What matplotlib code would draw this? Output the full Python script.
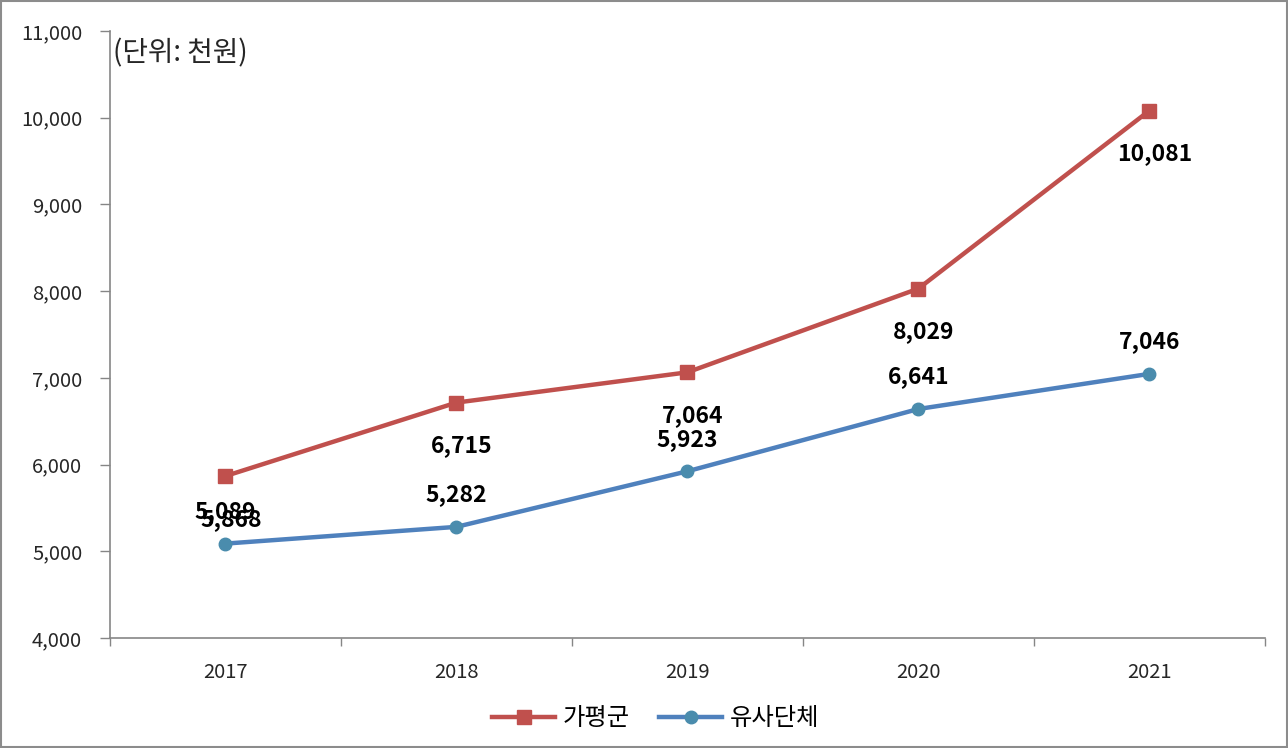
import numpy as np
import matplotlib
matplotlib.use("Agg")
import matplotlib.pyplot as plt
from matplotlib.patches import Rectangle

plt.rcParams['font.family'] = ['Noto Sans CJK KR', 'DejaVu Sans']

# data
years = ['2017', '2018', '2019', '2020', '2021']
gapyeong = [5868, 6715, 7064, 8029, 10081]
similar = [5089, 5282, 5923, 6641, 7046]
series_names = ['가평군', '유사단체']
unit_text = '(단위: 천원)'

red = '#C0504D'
blue = '#4F81BD'
blue_marker = '#4A8CAD'
axis_gray = '#868686'

fig = plt.figure(figsize=(12.88, 7.48), dpi=100)
ax = fig.add_axes([0.0854, 0.147, 0.8966, 0.8116])

x = np.arange(len(years))
ax.plot(x, gapyeong, color=red, lw=3.2, marker='s', ms=10,
        mfc=red, mec=red, label=series_names[0])
ax.plot(x, similar, color=blue, lw=3.2, marker='o', ms=9,
        mfc=blue_marker, mec=blue_marker, label=series_names[1])

# data labels: red below, blue above
for xi, v in zip(x, gapyeong):
    ax.annotate(f'{v:,}', (xi, v), xytext=(4, -31), textcoords='offset points',
                ha='center', va='center', fontsize=16.5, fontweight='bold', color='black')
for xi, v in zip(x, similar):
    ax.annotate(f'{v:,}', (xi, v), xytext=(0, 23), textcoords='offset points',
                ha='center', va='center', fontsize=16.5, fontweight='bold', color='black')

ax.set_xlim(-0.5, len(years) - 0.5)
ax.set_ylim(4000, 11000)
ax.set_yticks(np.arange(4000, 11001, 1000))
ax.set_yticklabels([f'{t:,}' for t in range(4000, 11001, 1000)])
ax.set_xticks(x)
ax.set_xticklabels(years)
ax.set_xticks(np.arange(-0.5, len(years), 1), minor=True)
ax.tick_params(axis='x', which='major', length=0, pad=17, labelsize=14.5, labelcolor='#262626')
ax.tick_params(axis='x', which='minor', length=6, width=1, color=axis_gray, direction='out')
ax.tick_params(axis='y', length=7, width=1, color=axis_gray, pad=13, labelsize=14.5, labelcolor='#262626')

for side in ['top', 'right']:
    ax.spines[side].set_visible(False)
for side in ['left', 'bottom']:
    ax.spines[side].set_color(axis_gray)
    ax.spines[side].set_linewidth(1.2)

ax.text(0.003, 0.988, unit_text, transform=ax.transAxes, ha='left', va='top',
        fontsize=20, color='#262626')

fig.legend(loc='center', bbox_to_anchor=(0.509, 0.04), ncol=2, frameon=False,
           fontsize=17.5, handlelength=2.6, columnspacing=1.2, handletextpad=0.3)

# outer frame
fig.patches.append(Rectangle((0.001, 0.001), 0.998, 0.998, transform=fig.transFigure,
                             fill=False, edgecolor='#8c8c8c', linewidth=1.5))

fig.savefig('out.png', dpi=100)
